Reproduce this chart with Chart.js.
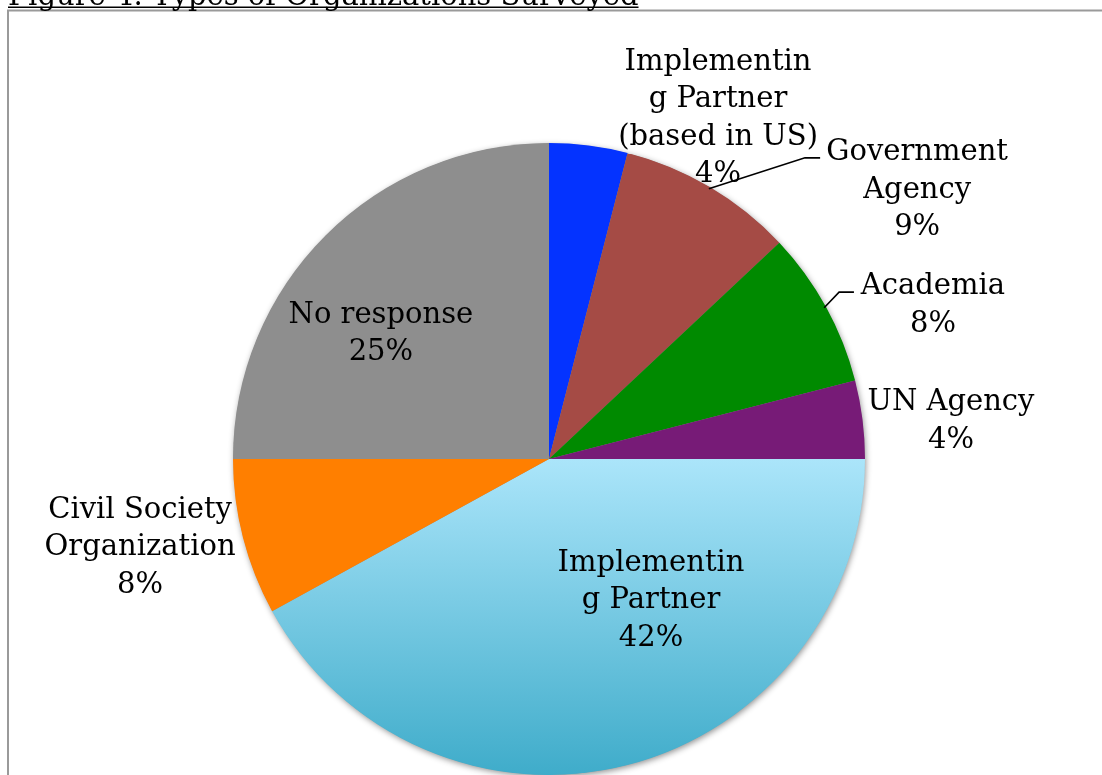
<!DOCTYPE html>
<html>
<head>
<meta charset="utf-8">
<script src="https://cdn.jsdelivr.net/npm/chart.js@4.4.1/dist/chart.umd.min.js"></script>
<style>
  html, body { margin: 0; padding: 0; background: #fff; }
  #wrap { position: relative; width: 1102px; height: 775px; overflow: hidden; }
</style>
</head>
<body>
<div id="wrap"><canvas id="orgChart" width="1102" height="775"></canvas></div>
<script>
// --- Data ---
const categories = [
  'Implementing Partner (based in US)',
  'Government Agency',
  'Academia',
  'UN Agency',
  'Implementing Partner',
  'Civil Society Organization',
  'No response'
];
const shares = [4, 9, 8, 4, 42, 8, 25];

// wrapped label text as it is printed next to each slice
const labelLines = [
  ['Implementin', 'g Partner', '(based in US)'],
  ['Government', 'Agency'],
  ['Academia'],
  ['UN Agency'],
  ['Implementin', 'g Partner'],
  ['Civil Society', 'Organization'],
  ['No response']
];

const titleText = 'Figure 4: Types of Organizations Surveyed';

// --- Styles ---
const sliceColors = ['#0433ff', '#a54b45', '#008a00', '#771b77', null, '#ff7f00', '#8e8e8e'];
const labelFont = '29px "DejaVu Serif"';
const lineHeight = 37.5;

// label block centres, in units of the pie radius from the pie centre
const labelSpots = [
  [0.535, -1.078],
  [1.165, -0.850],
  [1.215, -0.486],
  [1.272, -0.119],
  [0.323, 0.449],
  [-1.294, 0.280],
  [-0.532, -0.396]
];
// leader lines: slice index -> elbow and end (radius units)
const leaders = {
  1: [[0.810, -0.953], [0.858, -0.953]],
  2: [[0.918, -0.528], [0.965, -0.528]]
};

function sliceFill(c) {
  const i = c.dataIndex;
  if (sliceColors[i]) return sliceColors[i];
  const area = c.chart.chartArea;
  if (!area) return '#7fd0ea';
  const mid = (area.top + area.bottom) / 2;
  const g = c.chart.ctx.createLinearGradient(0, mid, 0, area.bottom);
  g.addColorStop(0, '#abe5fa');
  g.addColorStop(1, '#3facca');
  return g;
}

// frame + cut-off figure title behind everything
const framePlugin = {
  id: 'frame',
  beforeDraw(chart) {
    const c = chart.ctx;
    c.save();
    c.fillStyle = '#fff';
    c.fillRect(0, 0, chart.width, chart.height);
    c.strokeStyle = '#9a9a9a';
    c.lineWidth = 2;
    c.strokeRect(8, 10.5, chart.width + 20, chart.height + 20);
    c.fillStyle = '#000';
    c.font = '29px "DejaVu Serif"';
    c.textBaseline = 'alphabetic';
    c.fillText(titleText, 8, 5);
    const w = c.measureText(titleText).width;
    c.fillRect(8, 6.5, w, 1.5);
    c.restore();
  }
};

// soft drop shadow under the whole pie
const shadowPlugin = {
  id: 'pieShadow',
  beforeDatasetsDraw(chart) {
    const arc = chart.getDatasetMeta(0).data[0];
    if (!arc) return;
    const c = chart.ctx;
    c.save();
    c.shadowColor = 'rgba(0,0,0,0.45)';
    c.shadowBlur = 6;
    c.shadowOffsetX = 1;
    c.shadowOffsetY = 2;
    c.fillStyle = '#8e8e8e';
    c.beginPath();
    c.arc(arc.x, arc.y, arc.outerRadius - 0.5, 0, Math.PI * 2);
    c.fill();
    c.restore();
  }
};

// category + percentage labels, with leader lines
const labelPlugin = {
  id: 'sliceLabels',
  afterDatasetsDraw(chart) {
    const c = chart.ctx;
    const arcs = chart.getDatasetMeta(0).data;
    c.save();
    c.font = labelFont;
    c.fillStyle = '#000';
    c.textAlign = 'center';
    c.textBaseline = 'middle';
    arcs.forEach((arc, i) => {
      const cx = arc.x, cy = arc.y, R = arc.outerRadius;
      const lines = labelLines[i].concat([shares[i] + '%']);
      const bx = cx + labelSpots[i][0] * R;
      const by = cy + labelSpots[i][1] * R;
      const top = by - (lines.length - 1) * lineHeight / 2;
      lines.forEach((t, k) => c.fillText(t, bx, top + k * lineHeight));

      if (leaders[i]) {
        const mid = (arc.startAngle + arc.endAngle) / 2;
        const sx = cx + Math.cos(mid) * (R - 2);
        const sy = cy + Math.sin(mid) * (R - 2);
        c.strokeStyle = '#000';
        c.lineWidth = 1.6;
        c.beginPath();
        c.moveTo(sx, sy);
        leaders[i].forEach(p => c.lineTo(cx + p[0] * R, cy + p[1] * R));
        c.stroke();
      }
    });
    c.restore();
  }
};

const ctx = document.getElementById('orgChart').getContext('2d');
const chart = new Chart(ctx, {
  type: 'pie',
  data: {
    labels: categories,
    datasets: [{
      data: shares,
      backgroundColor: sliceFill,
      borderWidth: 0,
      hoverOffset: 0
    }]
  },
  options: {
    responsive: false,
    animation: false,
    devicePixelRatio: 1,
    layout: { padding: { top: 143, left: 0, right: 4, bottom: 0 } },
    plugins: {
      legend: { display: false },
      tooltip: { enabled: false }
    }
  },
  plugins: [framePlugin, shadowPlugin, labelPlugin]
});
</script>
</body>
</html>
